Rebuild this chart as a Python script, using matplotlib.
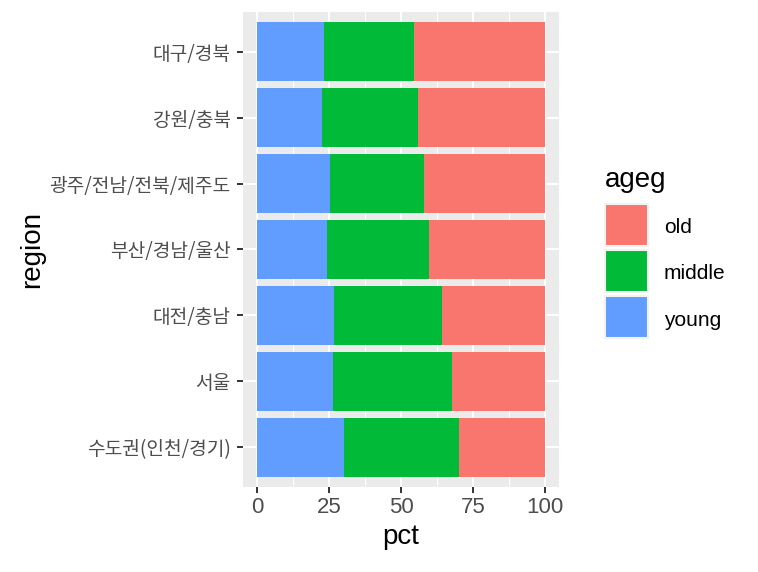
import numpy as np
import matplotlib
matplotlib.use("Agg")
import matplotlib.pyplot as plt
from matplotlib.patches import Rectangle
from matplotlib.ticker import MultipleLocator

# regions from bottom to top (ordered by share of "old")
regions = ['수도권(인천/경기)', '서울', '대전/충남', '부산/경남/울산',
           '광주/전남/전북/제주도', '강원/충북', '대구/경북']
young = [30.2, 26.4, 26.7, 24.3, 25.3, 22.6, 23.3]
middle = [39.9, 41.3, 37.5, 35.4, 32.7, 33.3, 31.2]
old = [29.9, 32.3, 35.8, 40.3, 42.0, 44.1, 45.5]

groups = ['old', 'middle', 'young']
colors = {'old': '#F8766D', 'middle': '#00BA38', 'young': '#619CFF'}

plt.rcParams['font.family'] = ['Liberation Sans', 'DejaVu Sans']

W, H = 758, 572
fig = plt.figure(figsize=(W / 100, H / 100), dpi=100)
ax = fig.add_axes([243 / W, 1 - 487 / H, (559 - 243) / W, (487 - 12) / H])
ax.set_facecolor('#EBEBEB')
for s in ax.spines.values():
    s.set_visible(False)

y = np.arange(len(regions))
left = np.zeros(len(regions))
for name, vals in [('young', young), ('middle', middle), ('old', old)]:
    ax.barh(y, vals, left=left, height=0.9, color=colors[name], zorder=3)
    left += np.array(vals)

ax.set_xlim(-5, 105)
ax.set_ylim(-0.6, len(regions) - 0.4)
ax.xaxis.set_major_locator(MultipleLocator(25))
ax.xaxis.set_minor_locator(MultipleLocator(12.5))
ax.grid(which='major', color='white', linewidth=1.5, zorder=1)
ax.grid(which='minor', axis='x', color='white', linewidth=0.75, zorder=1)
ax.set_axisbelow(True)

ax.set_yticks(y)
ax.set_yticklabels(regions, family=['Noto Sans CJK KR', 'DejaVu Sans'],
                   fontsize=13.8, color='#4D4D4D')
ax.set_xticks([0, 25, 50, 75, 100])
ax.set_xticklabels(['0', '25', '50', '75', '100'], fontsize=16, color='#4D4D4D')
ax.tick_params(which='major', length=4.5, width=1.4, color='#333333', pad=3)
ax.tick_params(axis='y', pad=4.5)
ax.tick_params(which='minor', length=0)

ax.set_xlabel('pct', fontsize=20, labelpad=4)
ax.set_ylabel('region', fontsize=20, labelpad=3)

# legend drawn by hand, ggplot style
fig.text(605 / W, 1 - 187 / H, 'ageg', fontsize=20, ha='left', va='baseline')
key_tops = [204, 250, 296]
for g, top in zip(groups, key_tops):
    fig.patches.append(Rectangle((605 / W, 1 - (top + 42) / H), 43 / W, 42 / H,
                                 transform=fig.transFigure, facecolor=colors[g],
                                 edgecolor='#F2F2F2', linewidth=1.5))
    fig.text(664 / W, 1 - (top + 24) / H, g, fontsize=15, ha='left', va='center')

fig.savefig('out.png', dpi=100)
